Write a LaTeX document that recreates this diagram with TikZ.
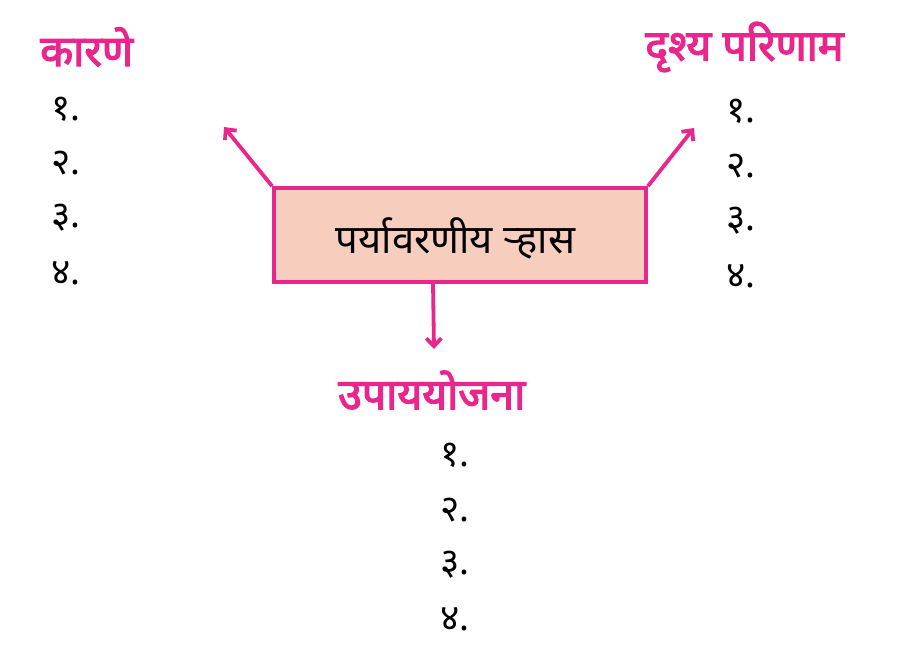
\documentclass[tikz,border=0pt]{standalone}
\usepackage{fontspec}
\newfontfamily\deva[Script=Devanagari]{Noto Sans}
\newfontfamily\devab[Script=Devanagari,FakeBold=3]{Noto Sans}
\usetikzlibrary{arrows.meta}
\definecolor{pinkc}{RGB}{233,38,140}
\definecolor{peach}{RGB}{247,206,190}
\tikzset{
  pinkline/.style={draw=pinkc, line width=3.8pt},
  arr/.style={pinkline, -{Straight Barb[length=8pt,width=15pt,line width=3.8pt]}},
  title/.style={text=pinkc, font=\devab\fontsize{43}{50}\selectfont, inner sep=0pt},
  item/.style={font=\deva\fontsize{37}{44}\selectfont, inner sep=0pt, anchor=west},
}
\begin{document}
\begin{tikzpicture}[x=1pt,y=-1pt]
\useasboundingbox (0,0) rectangle (901,651);
\node[pinkline, fill=peach, minimum width=372pt, minimum height=94pt, inner sep=0pt] (box) at (460,235) {};
\node[font=\deva\fontsize{40}{48}\selectfont, inner sep=0pt] (boxt) at (455.5,238) {पर्यावरणीय ऱ्हास};
\coordinate (l) at (224,127);
\coordinate (r) at (694,128);
\coordinate (d) at (434,349);
\draw[arr] (box.north west) -- (l);
\draw[arr] (box.north east) -- (r);
\draw[arr] ([xshift=-27pt]box.south) -- (d);
\node[title, anchor=west] (t1) at (40,47) {कारणे};
\node[title, anchor=west] (t2) at (645,47) {दृश्य परिणाम};
\node[title, anchor=west] (t3) at (338,390) {उपाययोजना};
\node[item] (a1) at (51,109) {१.};
\node[item] (a2) at (51,163) {२.};
\node[item] (a3) at (51,218) {३.};
\node[item] (a4) at (51,273) {४.};
\node[item] (b1) at (726,111) {१.};
\node[item] (b2) at (726,166) {२.};
\node[item] (b3) at (726,221) {३.};
\node[item] (b4) at (726,276) {४.};
\node[item] (c1) at (440,455) {१.};
\node[item] (c2) at (440,510) {२.};
\node[item] (c3) at (440,565) {३.};
\node[item] (c4) at (440,619) {४.};
\end{tikzpicture}
\end{document}
